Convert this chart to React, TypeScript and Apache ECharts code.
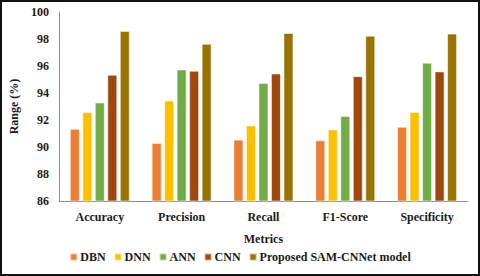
import React, { useEffect, useRef } from "react";
import * as echarts from "echarts";

const categories = ["Accuracy", "Precision", "Recall", "F1-Score", "Specificity"];
const seriesNames = ["DBN", "DNN", "ANN", "CNN", "Proposed SAM-CNNet model"];
const dbn = [91.35, 90.3, 90.55, 90.5, 91.5];
const dnn = [92.6, 93.45, 91.6, 91.3, 92.6];
const ann = [93.3, 95.75, 94.75, 92.3, 96.25];
const cnn = [95.35, 95.65, 95.45, 95.25, 95.6];
const proposed = [98.6, 97.65, 98.45, 98.25, 98.4];
const colors = ["#ED7D31", "#FFC000", "#70AD47", "#9E480E", "#997300"];
const yTicks = { min: 86, max: 100, interval: 2 };

export default function App() {
  const ref = useRef<HTMLDivElement>(null);
  useEffect(() => {
    document.body.style.margin = "0";
    const chart = echarts.init(ref.current!, undefined, { renderer: "svg" });
    const font = "Liberation Serif";
    const txt = { fontFamily: font, fontWeight: "bold" as const, fontSize: 12, color: "#1a1a1a" };
    const data = [dbn, dnn, ann, cnn, proposed];
    chart.setOption({
      animation: false,
      textStyle: { fontFamily: font },
      graphic: [
        {
          type: "rect",
          shape: { x: 1, y: 1, width: 478, height: 274 },
          style: { fill: "none", stroke: "#111", lineWidth: 2 },
        },
      ],
      grid: { left: 57, right: 12, top: 12, bottom: 75 },
      legend: {
        bottom: 8,
        left: "center",
        icon: "rect",
        itemWidth: 7,
        itemHeight: 7,
        itemGap: 8,
        textStyle: { ...txt, padding: [0, 0, 0, -2] },
        data: seriesNames,
      },
      xAxis: {
        type: "category",
        data: categories,
        name: "Metrics",
        nameLocation: "middle",
        nameGap: 32,
        nameTextStyle: txt,
        axisLine: { lineStyle: { color: "#8c8c8c", width: 1 } },
        axisTick: { show: false },
        axisLabel: { ...txt, margin: 10 },
      },
      yAxis: {
        type: "value",
        min: yTicks.min,
        max: yTicks.max,
        interval: yTicks.interval,
        name: "Range (%)",
        nameLocation: "middle",
        nameGap: 33,
        nameTextStyle: txt,
        axisLine: { show: true, lineStyle: { color: "#8c8c8c", width: 1 } },
        axisTick: { show: false },
        splitLine: { show: false },
        axisLabel: { ...txt, margin: 10 },
      },
      series: seriesNames.map((name, i) => ({
        name,
        type: "bar",
        data: data[i],
        barWidth: 10,
        barGap: "25%",
        itemStyle: { color: colors[i], borderColor: "rgba(255,255,255,0.55)", borderWidth: 1 },
      })),
    });
    return () => chart.dispose();
  }, []);
  return <div ref={ref} style={{ width: 480, height: 276 }} />;
}
